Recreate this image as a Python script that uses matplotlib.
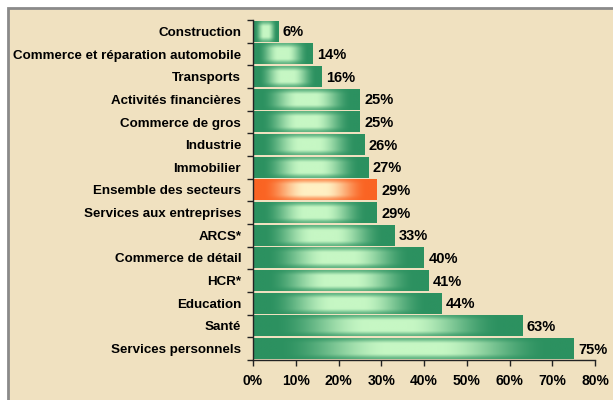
import numpy as np
import matplotlib
matplotlib.use("Agg")
import matplotlib.pyplot as plt
from matplotlib.patches import Rectangle
from matplotlib.ticker import FixedLocator, FuncFormatter

categories = ["Construction", "Commerce et réparation automobile", "Transports",
              "Activités financières", "Commerce de gros", "Industrie", "Immobilier",
              "Ensemble des secteurs", "Services aux entreprises", "ARCS*",
              "Commerce de détail", "HCR*", "Education", "Santé", "Services personnels"]
values = [6, 14, 16, 25, 25, 26, 27, 29, 29, 33, 40, 41, 44, 63, 75]
highlight = "Ensemble des secteurs"
xticks = [0, 10, 20, 30, 40, 50, 60, 70, 80]

plt.rcParams['font.family'] = ['Liberation Sans', 'DejaVu Sans']

fig = plt.figure(figsize=(6.13, 4.0), dpi=100)
fig.patch.set_facecolor("white")
bg = "#f0e1c0"
frame = Rectangle((8/613, -0.02), 1.1, 1 - 8/400 + 0.02, transform=fig.transFigure,
                  facecolor=bg, edgecolor="#8a8a8a", linewidth=2.0, zorder=-10)
fig.add_artist(frame)

ax = fig.add_axes([253/613, 1 - 360/400, (595 - 253)/613, 340/400])
ax.set_facecolor("none")
ax.set_zorder(1)

n = len(categories)
ypos = np.arange(n)
h = 0.9

def smooth(x, a, b):
    t = np.clip((x - a) / (b - a), 0, 1)
    return t * t * (3 - 2 * t)

def grad_img(dark, light, W=300, H=60):
    u = np.linspace(-1, 1, W)
    v = np.linspace(-1, 1, H)
    U, V = np.meshgrid(u, v)
    fu = 1 - smooth(np.abs(U), 0.15, 0.85)
    fv = 1 - 0.65 * smooth(np.abs(V), 0.45, 1.0)
    f = (fu * fv)[..., None]
    dark = np.array(dark) / 255.0
    light = np.array(light) / 255.0
    return dark + (light - dark) * f

green_img = grad_img((44, 145, 96), (198, 247, 196))
orange_img = grad_img((250, 100, 35), (255, 240, 195))

for y, val, cat in zip(ypos, values, categories):
    img = orange_img if cat == highlight else green_img
    ax.imshow(img, extent=(0, val, y + h/2, y - h/2), aspect='auto',
              interpolation='bilinear', zorder=2)
    ax.text(val + 1.0, y + 0.05, f"{val}%", va='center', ha='left',
            fontsize=10.5, fontweight='bold', color='black', zorder=3)

ax.set_xlim(0, 80)
ax.set_ylim(n - 0.5, -0.5)

ax.set_yticks(ypos)
ax.set_yticklabels(categories, fontsize=9.6, fontweight='bold')
ax.yaxis.set_minor_locator(FixedLocator(np.arange(-0.5, n, 1.0)))
ax.tick_params(axis='y', which='major', length=0, pad=8.5)
ax.tick_params(axis='y', which='minor', length=4, width=1, direction='out', color='#222222')

ax.set_xticks(xticks)
ax.xaxis.set_major_formatter(FuncFormatter(lambda x, p: f"{int(x)}%"))
ax.tick_params(axis='x', length=4, width=1, direction='out', color='#222222', pad=6)
for lab in ax.get_xticklabels():
    lab.set_fontsize(10)
    lab.set_fontweight('bold')

for s in ['top', 'right']:
    ax.spines[s].set_visible(False)
for s in ['left', 'bottom']:
    ax.spines[s].set_color('#222222')
    ax.spines[s].set_linewidth(1)

fig.savefig("out.png", dpi=100)
